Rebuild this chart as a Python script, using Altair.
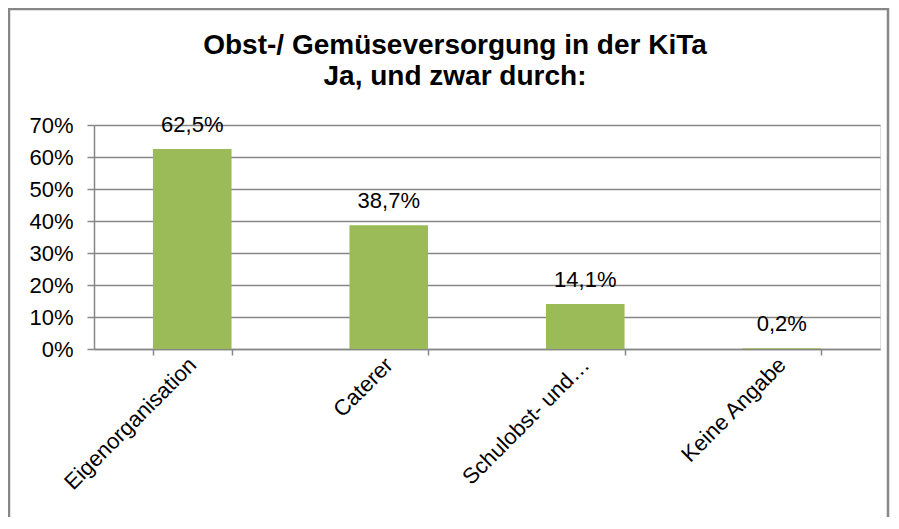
import altair as alt
import pandas as pd

categories = ["Eigenorganisation", "Caterer", "Schulobst- und…", "Keine Angabe"]
values = [62.5, 38.7, 14.1, 0.2]
title_lines = ["Obst-/ Gemüseversorgung in der KiTa", "Ja, und zwar durch:"]
y_ticks = [0, 0.1, 0.2, 0.3, 0.4, 0.5, 0.6, 0.7]

df = pd.DataFrame({
    "kat": categories,
    "wert": [v / 100 for v in values],
    "label": [f"{v:.1f}%".replace(".", ",") for v in values],
})

FONT = "Liberation Sans"
GRAY = "#878787"
W, H = 786, 224

base = alt.Chart(df)

x = alt.X("kat:N", sort=categories, title=None,
          scale=alt.Scale(paddingInner=0.6, paddingOuter=0.3),
          axis=alt.Axis(labelAngle=-45, labelAlign="right", labelBaseline="middle",
                        labelFontSize=22, labelFont=FONT, labelColor="black",
                        labelPadding=6, tickBand="extent", tickSize=6,
                        tickColor=GRAY, domainColor=GRAY, tickWidth=1.5,
                        domainWidth=1.5, grid=False, labelLimit=400))
y = alt.Y("wert:Q", title=None,
          scale=alt.Scale(domain=[0, 0.7], nice=False),
          axis=alt.Axis(values=y_ticks, format=".0%", labelOverlap=False,
                        labelFontSize=22, labelFont=FONT, labelColor="black",
                        labelPadding=14, tickSize=7, tickColor=GRAY, tickWidth=1.5,
                        domainColor=GRAY, domainWidth=1.5,
                        grid=True, gridColor=GRAY, gridWidth=1.5))

bars = base.mark_bar(color="#9BBB59").encode(x=x, y=y)
texts = base.mark_text(font=FONT, fontSize=22, baseline="alphabetic", dy=-17,
                       color="black").encode(x=x, y=y, text="label:N")

border = alt.Chart(alt.Data(values=[{}])).mark_rect(
    fill="white", fillOpacity=0, stroke=GRAY, strokeWidth=2.5
).encode(x=alt.value(-85), x2=alt.value(W + 8), y=alt.value(-116), y2=alt.value(H + 260))

chart = alt.layer(border, bars, texts).properties(
    width=W, height=H,
    autosize=alt.AutoSizeParams(type="none"),
    padding={"left": 86, "top": 117, "right": 10, "bottom": 168},
    title=alt.TitleParams(text=title_lines, font=FONT, fontSize=28, fontWeight="bold",
                          color="black", anchor="middle", frame="group",
                          dx=-32, lineHeight=31, offset=-83),
).configure_view(stroke=None).configure(background="white")

chart.save("out.html", embed_options={"renderer": "svg", "actions": False})
